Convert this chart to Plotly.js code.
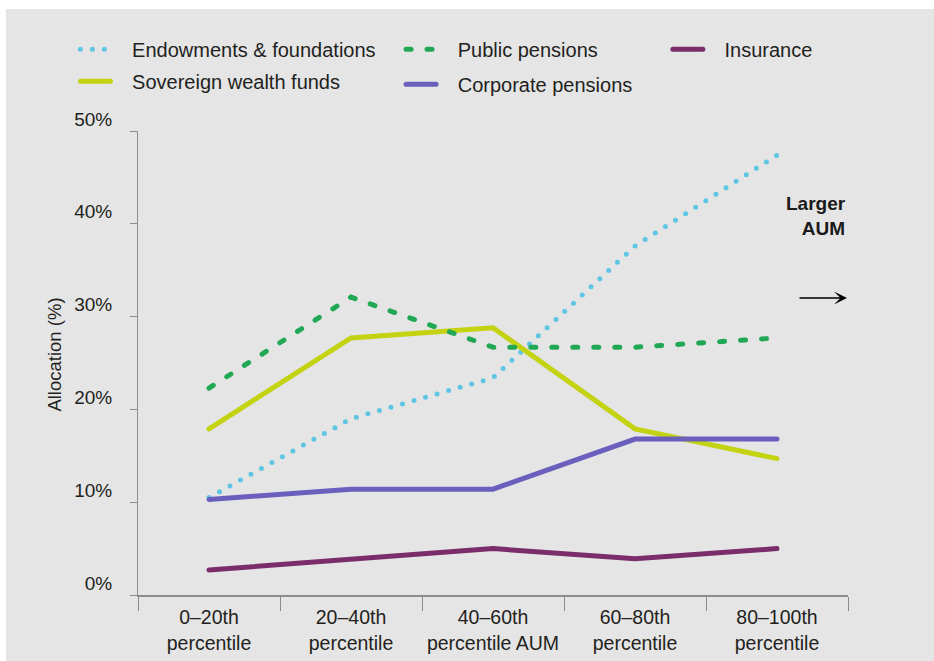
<!DOCTYPE html>
<html>
<head>
<meta charset="utf-8">
<script src="https://cdn.plot.ly/plotly-3.0.1.min.js"></script>
<style>
  html, body { margin: 0; padding: 0; background: #ffffff; }
  #chart { position: absolute; left: 6px; top: 9px; width: 928px; height: 652px; }
  .scatterlayer path.js-line, .legendlines path { stroke-linecap: round; }
</style>
</head>
<body>
<div id="chart"></div>
<script>
// ---- data ----
const categories = ['0–20th<br>percentile', '20–40th<br>percentile', '40–60th<br>percentile AUM', '60–80th<br>percentile', '80–100th<br>percentile'];
const seriesNames = ['Endowments & foundations', 'Sovereign wealth funds', 'Public pensions', 'Corporate pensions', 'Insurance'];
const endowments = [10.5, 19.0, 23.4, 37.6, 47.4];
const sovereign  = [17.9, 27.7, 28.8, 17.9, 14.7];
const publicPensions = [22.3, 32.1, 26.7, 26.7, 27.7];
const corporate = [10.3, 11.4, 11.4, 16.8, 16.8];
const insurance = [2.7, 3.9, 5.0, 3.9, 5.0];
const yTickVals = [0, 10, 20, 30, 40, 50];
const yTickText = ['0%', '10%', '20%', '30%', '40%', '50%'];
const yTitle = 'Allocation (%)';

const FONT = 'Liberation Sans, Arial, Helvetica, sans-serif';
const TXT = '#231f20';
const PAD = '\u00a0\u00a0\u00a0';

function tr(name, y, color, dash, legend, i) {
  return {
    type: 'scatter', mode: 'lines', name: PAD + name, x: categories, y: y,
    line: {color: color, width: 5, dash: dash},
    legend: legend, legendgroup: 'g' + i, hoverinfo: 'skip'
  };
}

const data = [
  tr(seriesNames[0], endowments, '#5ec6e4', '0px,12px', 'legend', 0),
  tr(seriesNames[1], sovereign, '#c3d311', 'solid', 'legend', 1),
  tr(seriesNames[2], publicPensions, '#21a854', '5px,16px', 'legend2', 2),
  tr(seriesNames[3], corporate, '#6a5fbd', 'solid', 'legend2', 3),
  tr(seriesNames[4], insurance, '#7a2d6a', 'solid', 'legend3', 4)
];

const legendBase = {
  orientation: 'v', xref: 'container', yref: 'container', yanchor: 'top', xanchor: 'left',
  bgcolor: 'rgba(0,0,0,0)', font: {family: FONT, size: 20, color: TXT},
  itemwidth: 30, traceorder: 'grouped', tracegroupgap: 3
};

const layout = {
  width: 928, height: 652,
  paper_bgcolor: '#e5e5e5', plot_bgcolor: '#e5e5e5',
  margin: {l: 132, r: 86, t: 122, b: 66, autoexpand: false},
  font: {family: FONT, color: TXT},
  showlegend: true,
  legend: Object.assign({}, legendBase, {x: 0.0748, y: 0.968}),
  legend2: Object.assign({}, legendBase, {x: 0.4257, y: 0.968, tracegroupgap: 6}),
  legend3: Object.assign({}, legendBase, {x: 0.7132, y: 0.968}),
  xaxis: {
    type: 'category', range: [-0.5, 4.5], automargin: false,
    showline: true, linecolor: '#8c8c8c', linewidth: 2,
    ticks: 'outside', tickson: 'boundaries', ticklen: 14, tickcolor: '#8c8c8c', tickwidth: 1,
    showgrid: false, zeroline: false, ticklabelstandoff: 4,
    tickfont: {family: FONT, size: 19.5, color: TXT}
  },
  yaxis: {
    range: [0, 50], automargin: false,
    tickvals: yTickVals, ticktext: yTickText,
    showline: true, linecolor: '#8c8c8c', linewidth: 1,
    ticks: 'outside', ticklen: 7, tickcolor: '#8c8c8c', tickwidth: 1,
    showgrid: false, zeroline: false,
    ticklabelshift: -12, ticklabelstandoff: 14,
    tickfont: {family: FONT, size: 19, color: TXT}
  },
  annotations: [
    {xref: 'paper', yref: 'y', x: -0.117, y: 25.9, xanchor: 'center', yanchor: 'middle',
     text: yTitle, textangle: -90, showarrow: false, font: {family: FONT, size: 18.5, color: TXT}},
    {xref: 'paper', yref: 'y', x: 1, y: 40.8, xanchor: 'right', yanchor: 'middle', align: 'right',
     text: '<b>Larger<br>AUM</b>', showarrow: false, font: {family: FONT, size: 19, color: '#1a1a1a'}},
    {xref: 'paper', yref: 'y', x: 0.9986, y: 32, text: '', showarrow: true,
     axref: 'pixel', ayref: 'pixel', ax: -49, ay: 0,
     arrowhead: 3, arrowsize: 1.45, arrowwidth: 1.5, arrowcolor: '#000000', standoff: 0}
  ]
};

Plotly.newPlot('chart', data, layout, {displayModeBar: false, staticPlot: true});
</script>
</body>
</html>
